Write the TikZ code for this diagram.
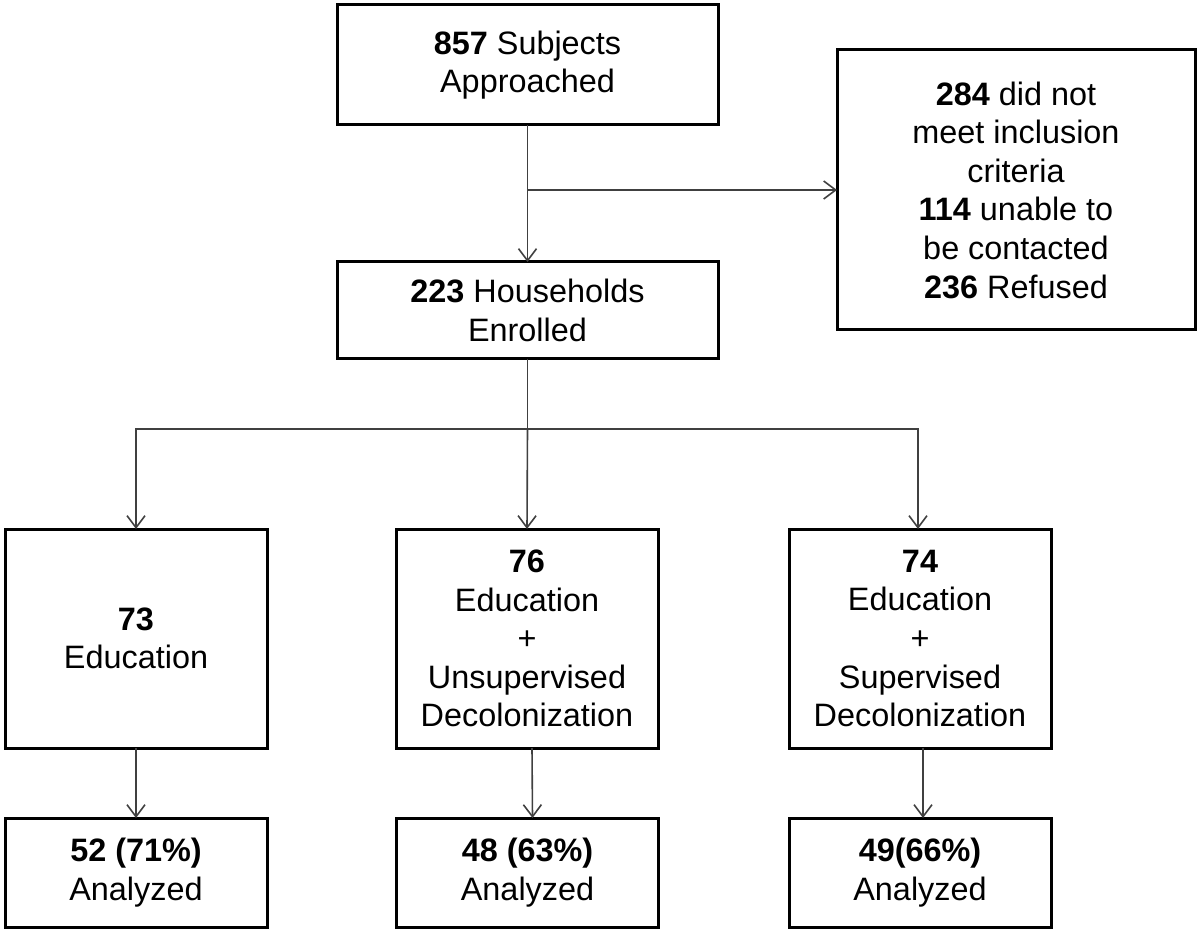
\documentclass[tikz,border=0pt]{standalone}
\usepackage{fontspec}
\setmainfont{Liberation Sans}
\usetikzlibrary{arrows.meta}
\newlength{\du}
\setlength{\du}{0.5\unitlength}
\definecolor{dialinecolor}{rgb}{0.000000, 0.000000, 0.000000}
\definecolor{arrowcolor}{rgb}{0.250000, 0.250000, 0.250000}
\tikzset{
  flowbox/.style={draw=dialinecolor, line width=1.5pt, fill=white, align=center,
    inner sep=0pt, outer sep=0pt, font=\fontsize{16.2}{19.3}\selectfont},
  flowarrow/.style={draw=arrowcolor, line width=0.8pt, -{Straight Barb[length=6pt,width=9pt]}}
}
\begin{document}
\begin{tikzpicture}
\pgftransformxscale{1.000000}
\pgftransformyscale{-1.000000}
\useasboundingbox (0\du,0\du) rectangle (1200\du,936\du);
% top row
\node[flowbox, minimum width=381\du, minimum height=120\du] (approached) at (527.500000\du,65.000000\du) {\textbf{857} Subjects\\Approached};
\node[flowbox, minimum width=358\du, minimum height=280\du] (excluded) at (1016.000000\du,190.000000\du) {\textbf{284} did not\\meet inclusion\\criteria\\\textbf{114} unable to\\be contacted\\\textbf{236} Refused};
\node[flowbox, minimum width=381\du, minimum height=97\du] (enrolled) at (527.500000\du,310.500000\du) {\textbf{223} Households\\Enrolled};
% arms
\node[flowbox, minimum width=262\du, minimum height=219\du] (educ) at (136.000000\du,638.500000\du) {\textbf{73}\\Education};
\node[flowbox, minimum width=262\du, minimum height=219\du] (unsup) at (527.000000\du,638.500000\du) {\textbf{76}\\Education\\+\\Unsupervised\\Decolonization};
\node[flowbox, minimum width=262\du, minimum height=219\du] (sup) at (920.000000\du,638.500000\du) {\textbf{74}\\Education\\+\\Supervised\\Decolonization};
% analyzed
\node[flowbox, minimum width=262\du, minimum height=109\du] (educan) at (136.000000\du,872.500000\du) {\textbf{52 (71\%)}\\Analyzed};
\node[flowbox, minimum width=262\du, minimum height=109\du] (unsupan) at (527.500000\du,872.500000\du) {\textbf{48 (63\%)}\\Analyzed};
\node[flowbox, minimum width=262\du, minimum height=109\du] (supan) at (920.000000\du,872.500000\du) {\textbf{49(66\%)}\\Analyzed};
% connectors
\coordinate (split) at (approached.south |- excluded.west);
\coordinate (fork) at (527.500000\du,429.000000\du);
\draw[flowarrow] (approached.south) -- (enrolled.north);
\draw[flowarrow] (split) -- (excluded.west);
\draw[flowarrow, -] (enrolled.south) -- (fork);
\draw[flowarrow] (fork) -| (educ.north);
\draw[flowarrow] (fork) -- (unsup.north);
\draw[flowarrow] (fork) -| ([xshift=-2\du]sup.north);
\draw[flowarrow] (educ.south) -- (educan.north);
\draw[flowarrow] ([xshift=5\du]unsup.south) -- ([xshift=5\du]unsupan.north);
\draw[flowarrow] ([xshift=3\du]sup.south) -- ([xshift=3\du]supan.north);
\end{tikzpicture}
\end{document}
